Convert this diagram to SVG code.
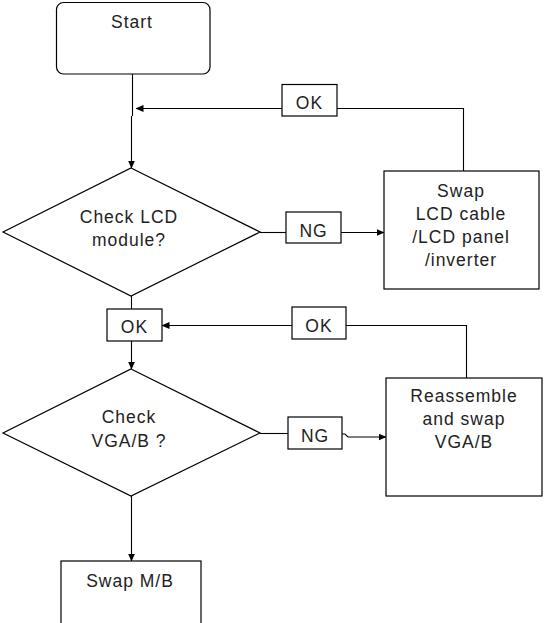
<svg xmlns="http://www.w3.org/2000/svg" width="544" height="623" viewBox="0 0 544 623">
<style>
.shape{fill:#fff;stroke:#000;stroke-width:1.2}
.conn{fill:none;stroke:#000;stroke-width:1.1}
text{font-family:"Liberation Sans",Arial,sans-serif;font-size:17.5px;letter-spacing:1px;fill:#222;text-anchor:middle}
</style>
<defs>
<marker id="arr" markerWidth="8" markerHeight="7" refX="7.5" refY="3.5" orient="auto" markerUnits="userSpaceOnUse">
<path d="M0,0 L8,3.5 L0,7 Z" fill="#000"/>
</marker>
</defs>
<rect width="544" height="623" fill="#fff"/>
<g id="connectors">
<path class="conn" d="M132.5,74 V116"/>
<path class="conn" d="M131.5,116 V168" marker-end="url(#arr)"/>
<path class="conn" d="M463.5,171 V108.5 H337"/>
<path class="conn" d="M282,108.5 H136" marker-end="url(#arr)"/>
<path class="conn" d="M260,232.5 H286"/>
<path class="conn" d="M341,232.5 H384" marker-end="url(#arr)"/>
<path class="conn" d="M131.5,296 V309"/>
<path class="conn" d="M131.5,341 V369" marker-end="url(#arr)"/>
<path class="conn" d="M466.5,378 V325.5 H346"/>
<path class="conn" d="M292,325.5 H162" marker-end="url(#arr)"/>
<path class="conn" d="M260,433.5 H288"/>
<path class="conn" d="M342,434 H345 L348,437 H386" marker-end="url(#arr)"/>
<path class="conn" d="M131.5,496 V561" marker-end="url(#arr)"/>
</g>
<g id="start">
<rect class="shape" x="56.5" y="2.5" width="153.5" height="71.5" rx="7"/>
<text x="132" y="28">Start</text>
</g>
<g id="check-lcd">
<polygon class="shape" points="131,168 260,232 131,296 3,232"/>
<text x="129" y="223">Check LCD</text>
<text x="129" y="246">module?</text>
</g>
<g id="ok1">
<rect class="shape" x="282" y="84.5" width="55" height="31.5"/>
<text x="309.5" y="109">OK</text>
</g>
<g id="ng1">
<rect class="shape" x="286" y="212" width="55" height="31"/>
<text x="313.5" y="237">NG</text>
</g>
<g id="swap-lcd">
<rect class="shape" x="384" y="171" width="155" height="118"/>
<text x="461" y="197">Swap</text>
<text x="461" y="220">LCD cable</text>
<text x="461" y="243">/LCD panel</text>
<text x="461" y="266">/inverter</text>
</g>
<g id="ok2">
<rect class="shape" x="107" y="309" width="55" height="32"/>
<text x="134.5" y="333">OK</text>
</g>
<g id="ok3">
<rect class="shape" x="292" y="307" width="54" height="32"/>
<text x="319" y="332">OK</text>
</g>
<g id="check-vga">
<polygon class="shape" points="131,369 260,433 131,496 3,433"/>
<text x="129" y="423">Check</text>
<text x="129" y="447">VGA/B ?</text>
</g>
<g id="ng2">
<rect class="shape" x="288" y="417" width="54" height="32"/>
<text x="315" y="442">NG</text>
</g>
<g id="reassemble">
<rect class="shape" x="386" y="378" width="156" height="118"/>
<text x="464" y="402">Reassemble</text>
<text x="464" y="425">and swap</text>
<text x="464" y="448">VGA/B</text>
</g>
<g id="swap-mb">
<rect class="shape" x="61" y="561" width="140" height="70"/>
<text x="130" y="587">Swap M/B</text>
</g>
</svg>
